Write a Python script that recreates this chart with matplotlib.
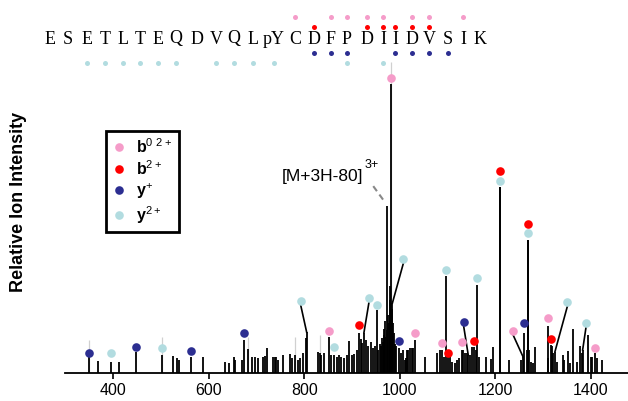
import numpy as np
import matplotlib.pyplot as plt
from matplotlib.lines import Line2D

plt.rcParams['font.family'] = 'Liberation Sans'
plt.rcParams['mathtext.fontset'] = 'custom'
plt.rcParams['mathtext.rm'] = 'Liberation Sans'
plt.rcParams['mathtext.bf'] = 'Liberation Sans:bold'

# peptide sequence and where each residue sits (pixels, layout only)
residues = ['E', 'S', 'E', 'T', 'L', 'T', 'E', 'Q', 'D', 'V', 'Q', 'L', 'pY',
            'C', 'D', 'F', 'P', 'D', 'I', 'I', 'D', 'V', 'S', 'I', 'K']
res_x = [50, 68, 87, 105, 123, 140, 158, 176, 197, 216, 234, 253, 274,
         295, 314, 331, 347, 367, 383, 395, 412, 429, 448, 463, 480]

# residues with an observed fragment of each type
seq_b02 = [13, 15, 16, 17, 18, 20, 21, 23]
seq_b2 = [14, 17, 18, 19, 20, 21]
seq_y1 = [14, 15, 16, 19, 20, 21, 22]
seq_y2 = [2, 3, 4, 5, 6, 7, 9, 10, 11, 12, 16, 18]

# unlabelled peaks (m/z, relative intensity)
peak_mz = [368, 412, 525, 533, 537, 588,
           633, 642, 653, 656, 669, 681.5, 690, 697, 703, 714, 718, 721, 735, 738,
           741, 746, 755, 770, 774, 780.5, 787, 792, 797, 803,
           829, 833, 836, 841, 857, 868, 873, 878, 883, 889, 894, 899, 904, 910,
           919, 921.5, 929, 934, 939, 943, 948, 955, 958, 960, 962, 964, 966, 968,
           969, 970, 972.6, 973.8, 975, 977, 979, 980, 983, 985.5, 988, 990, 992,
           1002.5, 1007, 1011, 1013, 1014.5, 1018, 1021, 1025, 1027,
           1053, 1077, 1084, 1092.6, 1105, 1108.7, 1115.6, 1120.4, 1124.6, 1133,
           1136.5, 1140, 1147, 1150.6, 1159.6, 1166.5, 1180.6, 1190.4, 1196,
           1228.7, 1253, 1265.8, 1271, 1274.8, 1278.3, 1283, 1311, 1318, 1321.6,
           1330, 1341, 1344.5, 1353, 1356.4, 1363.4, 1370.5, 1377.4, 1381,
           1394.8, 1399.8, 1403, 1412.4, 1422.8]
peak_int = [4.0, 3.6, 5.6, 5.0, 4.2, 5.3,
            3.7, 3.4, 5.5, 4.3, 4.5, 8.0, 5.5, 5.3, 5.0, 5.5, 5.7, 8.4, 5.5, 5.2,
            5.5, 4.3, 6.2, 6.4, 4.9, 6.1, 4.4, 4.9, 6.6, 12.0,
            7.2, 6.6, 6.1, 6.6, 6.1, 5.5, 6.1, 5.5, 4.9, 6.1, 11.0, 6.1, 6.4, 7.8,
            11.5, 10.2, 11.3, 9.2, 10.7, 8.6, 9.2, 7.8, 10.0, 9.2, 12.0, 10.4, 13.0, 15.0,
            12.4, 18.0, 14.7, 57.7, 20.0, 17.0, 25.0, 30.0, 22.0, 17.0, 13.6, 10.0, 9.2,
            6.6, 7.8, 4.3, 4.9, 7.8, 7.8, 8.4, 8.4, 8.4,
            5.5, 6.6, 7.8, 5.5, 5.5, 3.7, 3.2, 4.3, 4.9, 7.8,
            6.6, 6.6, 6.1, 9.0, 7.8, 5.5, 5.5, 4.6, 9.0,
            4.3, 4.3, 7.8, 7.8, 3.7, 3.2, 8.7, 4.9, 9.2, 6.6,
            3.7, 6.1, 4.3, 7.6, 3.2, 15.0, 3.7, 9.2, 6.6,
            13.0, 5.5, 5.3, 4.9, 4.3]

# faint grey peaks
faint_mz = [349.1, 502.6, 682.7, 780.5, 833, 981.6]
faint_int = [11.3, 12.3, 12.4, 12.4, 13.0, 107.6]

# labelled fragment ions: dot position and the peak it belongs to
b02_mz = [851.7, 981.6, 1031, 1087.8, 1129.6, 1237.7, 1309.7, 1408.7]
b02_int = [14.4, 102.2, 13.6, 10.1, 10.7, 14.4, 18.8, 8.4]
b02_pk_mz = [851.7, 981.6, 1031, 1087.8, 1129.6, 1258, 1309.7, 1408.7]
b02_pk_int = [12.2, 100.0, 11.3, 7.8, 7.8, 5.5, 16.1, 6.8]

b2_mz = [915.2, 1100.3, 1155.4, 1209.8, 1267.8, 1316]
b2_int = [16.5, 6.9, 10.9, 69.9, 51.5, 11.5]
b2_pk_mz = [915.2, 1100.3, 1155.4, 1209.8, 1267.8, 1316]
b2_pk_int = [13.8, 5.3, 9.0, 64.4, 45.9, 9.4]

y1_mz = [349.1, 448.2, 563.4, 674.3, 999, 1133.8, 1261]
y1_int = [6.9, 8.9, 7.6, 13.6, 10.9, 17.6, 17.1]
y1_pk_mz = [349.1, 448.2, 563.4, 674.3, 999, 1143.4, 1261]
y1_pk_int = [5.4, 7.1, 5.5, 11.3, 8.6, 6.1, 13.6]

y2_mz = [394.6, 502.6, 792.5, 862.4, 935.5, 952.9, 1007.3, 1096.1, 1162.3,
         1209.8, 1267.8, 1350.8, 1390]
y2_int = [6.7, 8.6, 24.9, 8.9, 25.8, 23.4, 39.2, 35.5, 32.7, 66.5, 48.2, 24.3, 17.1]
y2_pk_mz = [394.6, 502.6, 805, 862.4, 925, 952.9, 984.5, 1096.1, 1162.3,
            1209.8, 1267.8, 1325, 1383]
y2_pk_int = [3.7, 6.1, 14.0, 6.1, 13.8, 21.7, 24.0, 33.4, 30.3, 64.4, 45.9, 7.2, 7.8]

ions = [
    (b02_mz, b02_int, b02_pk_mz, b02_pk_int, seq_b02, '#f59cc9', r'$\mathbf{b}^{0\ 2+}$', 17.3),
    (b2_mz, b2_int, b2_pk_mz, b2_pk_int, seq_b2, '#ff0000', r'$\mathbf{b}^{2+}$', 27.3),
    (y1_mz, y1_int, y1_pk_mz, y1_pk_int, seq_y1, '#2c2e91', r'$\mathbf{y}^{+}$', 52.7),
    (y2_mz, y2_int, y2_pk_mz, y2_pk_int, seq_y2, '#b2dce0', r'$\mathbf{y}^{2+}$', 63.3),
]

W, H = 628, 401
fig = plt.figure(figsize=(W / 100, H / 100), dpi=100)
ax = fig.add_axes([65.5 / W, 1 - 372.5 / H, 562.5 / W, 317.35 / H])

ax.vlines(faint_mz, 0, faint_int, color='#d0d0d0', lw=0.9, zorder=1)
ax.vlines(peak_mz, 0, peak_int, color='black', lw=1.3, zorder=2)

for mz, inten, pk_mz, pk_int, seq, col, lab, row in ions:
    ax.vlines(pk_mz, 0, pk_int, color='black', lw=1.3, zorder=2)
    # leader lines where the dot is moved off its peak
    for m, i, pm, pi in zip(mz, inten, pk_mz, pk_int):
        if abs(m - pm) > 2:
            ax.plot([pm, m], [pi, i - 1.5], color='black', lw=1.2, zorder=2)
    ax.plot(mz, inten, ls='none', marker='o', ms=6.2, mfc=col, mec='none', zorder=3)

# precursor annotation
ax.plot([944.5, 966.9], [64.6, 59.5], color='#888888', lw=1.5, ls=(0, (3, 2)))
ax.text(923.6, 68.1, '[M+3H-80]', fontsize=12.5, ha='right', va='center')
ax.text(926, 71.9, '3+', fontsize=9, ha='left', va='center')

ax.set_xlim(300, 1478)
ax.set_ylim(0, 110)
ax.set_xticks([400, 600, 800, 1000, 1200, 1400])
ax.tick_params(axis='x', direction='out', length=4.3, width=1.2, labelsize=11.5, pad=3)
ax.set_yticks([])
for s in ['top', 'right', 'left']:
    ax.spines[s].set_visible(False)
ax.spines['bottom'].set_linewidth(1.3)
ax.patch.set_alpha(0)

handles = [Line2D([], [], ls='none', marker='o', ms=6.2, mfc=c[5], mec='none') for c in ions]
leg = ax.legend(handles, [c[6] for c in ions], loc='upper left',
                bbox_to_anchor=(106 / W, 1 - 131 / H), bbox_transform=fig.transFigure,
                fancybox=False, edgecolor='black', framealpha=1, fontsize=11.5,
                handlelength=0.8, handletextpad=0.7, labelspacing=0.2,
                borderpad=0.4, borderaxespad=0)
leg.get_frame().set_linewidth(2)

fig.text(19 / W, 1 - 202 / H, 'Relative Ion Intensity', rotation=90, fontsize=13,
         fontweight='bold', ha='center', va='center')

# sequence map on an overlay in pixel units
top = fig.add_axes([0, 0, 1, 1])
top.set_xlim(0, W)
top.set_ylim(H, 0)
top.axis('off')
for r, x in zip(residues, res_x):
    top.text(x, 39, r, fontsize=13, family='Liberation Serif', ha='center', va='center')
for mz, inten, pk_mz, pk_int, seq, col, lab, row in ions:
    top.plot([res_x[i] for i in seq], [row] * len(seq), ls='none', marker='o',
             ms=3.6, mfc=col, mec='none')

fig.savefig('out.png', dpi=100)
